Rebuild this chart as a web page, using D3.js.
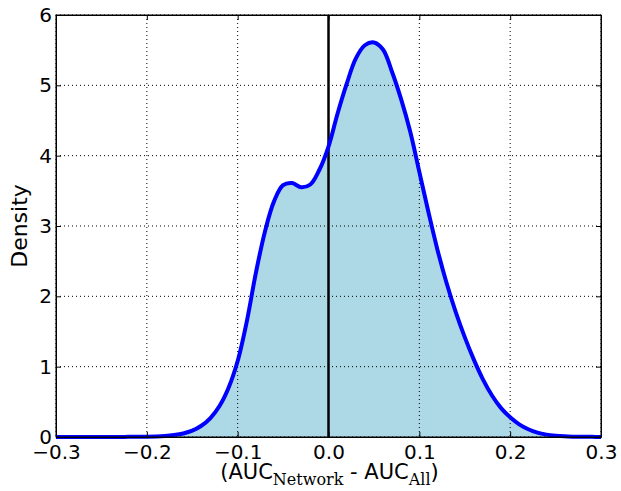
<!DOCTYPE html>
<html>
<head>
<meta charset="utf-8">
<script src="https://cdn.jsdelivr.net/npm/d3@7"></script>
<style>
  body { margin: 0; background: #fff; }
  text { font-family: "DejaVu Sans", sans-serif; }
</style>
</head>
<body>
<div id="chart"></div>
<script>
// density estimate, step 0.01
let xs = d3.range(-30, 31).map(d => d / 100);
let density = [
    0, 0, 0, 0, 0, 0, 0.001, 0.001, 0.002, 0.002, 0.003,        // -0.30 .. -0.20
    0.006, 0.013, 0.027, 0.05, 0.09, 0.16, 0.27, 0.44, 0.7, 1.08, // -0.19 .. -0.10
    1.64, 2.33, 2.92, 3.35, 3.58, 3.61, 3.55, 3.59, 3.8,        // -0.09 .. -0.01
    4.13,                                                       // 0.00
    4.6, 5.02, 5.38, 5.57, 5.61, 5.51, 5.19, 4.8, 4.34, 3.77,   // 0.01 .. 0.10
    3.2, 2.66, 2.19, 1.78, 1.42, 1.1, 0.82, 0.59, 0.41, 0.28,   // 0.11 .. 0.20
    0.18, 0.11, 0.062, 0.034, 0.018, 0.009, 0.005, 0.003, 0.002, 0.001 // 0.21 .. 0.30
];
let xTicks = [-0.3, -0.2, -0.1, 0.0, 0.1, 0.2, 0.3];
let yTicks = [0, 1, 2, 3, 4, 5, 6];

let pts = xs.map((x, i) => ({ x: x, y: density[i] }));

let margin = { top: 15, right: 20, bottom: 54, left: 56 },
    width = 621 - margin.left - margin.right,
    height = 491 - margin.top - margin.bottom;

let svg = d3.select("#chart")
    .append("svg")
    .attr("width", 621)
    .attr("height", 491)
    .append("g")
    .attr("transform", "translate(" + margin.left + "," + margin.top + ")");

let x = d3.scaleLinear().domain([-0.3, 0.3]).range([0, width]);
let y = d3.scaleLinear().domain([0, 6]).range([height, 0]);

// fill under the curve
let area = d3.area()
    .x(d => x(d.x))
    .y0(y(0))
    .y1(d => y(d.y))
    .curve(d3.curveCatmullRom);
svg.append("path")
    .datum(pts)
    .attr("d", area)
    .attr("fill", "#add8e6");

// grid
svg.selectAll(".gx")
    .data(xTicks)
    .enter()
    .append("line")
    .attr("x1", d => x(d)).attr("x2", d => x(d))
    .attr("y1", 0).attr("y2", height)
    .attr("stroke", "#000")
    .attr("stroke-width", 1)
    .attr("stroke-dasharray", "1,3");
svg.selectAll(".gy")
    .data(yTicks)
    .enter()
    .append("line")
    .attr("x1", 0).attr("x2", width)
    .attr("y1", d => y(d)).attr("y2", d => y(d))
    .attr("stroke", "#000")
    .attr("stroke-width", 1)
    .attr("stroke-dasharray", "1,3");

// zero line
svg.append("line")
    .attr("x1", x(0)).attr("x2", x(0))
    .attr("y1", 0).attr("y2", height)
    .attr("stroke", "#000")
    .attr("stroke-width", 2.5);

// the density curve
let line = d3.line()
    .x(d => x(d.x))
    .y(d => y(d.y))
    .curve(d3.curveCatmullRom);
svg.append("path")
    .datum(pts)
    .attr("d", line)
    .attr("fill", "none")
    .attr("stroke", "#0000ff")
    .attr("stroke-width", 4);

// axes, ticks pointing inward like matplotlib classic
svg.append("g")
    .attr("transform", "translate(0," + height + ")")
    .call(d3.axisBottom(x).tickValues(xTicks).tickSizeInner(-5).tickSizeOuter(0)
        .tickPadding(8).tickFormat(d => d3.format(".1f")(d).replace("-", "\u2212")));
svg.append("g")
    .call(d3.axisLeft(y).tickValues(yTicks).tickSizeInner(-5).tickSizeOuter(0)
        .tickPadding(4).tickFormat(d3.format("d")));
svg.append("g")
    .call(d3.axisTop(x).tickValues(xTicks).tickSizeInner(-5).tickSizeOuter(0).tickFormat(""));
svg.append("g")
    .attr("transform", "translate(" + width + ",0)")
    .call(d3.axisRight(y).tickValues(yTicks).tickSizeInner(-5).tickSizeOuter(0).tickFormat(""));

svg.selectAll(".tick text")
    .style("font-family", "'DejaVu Sans', sans-serif")
    .style("font-size", "20px")
    .attr("fill", "#000");
svg.selectAll(".tick line").attr("stroke", "#000");

// frame
svg.append("rect")
    .attr("width", width)
    .attr("height", height)
    .attr("fill", "none")
    .attr("stroke", "#000")
    .attr("stroke-width", 1);

// labels
svg.append("text")
    .attr("transform", "rotate(-90)")
    .attr("x", 0 - height / 2)
    .attr("y", -29)
    .style("text-anchor", "middle")
    .style("font-size", "22px")
    .text("Density");

let xl = svg.append("text")
    .attr("x", width / 2 + 1)
    .attr("y", height + 42)
    .style("text-anchor", "middle")
    .style("font-size", "21px");
xl.append("tspan").text("(AUC");
xl.append("tspan")
    .attr("dy", 6)
    .style("font-family", "'DejaVu Serif', serif")
    .style("font-size", "16px")
    .text("Network");
xl.append("tspan").attr("dy", -6).text(" - AUC");
xl.append("tspan")
    .attr("dy", 6)
    .style("font-family", "'DejaVu Serif', serif")
    .style("font-size", "16px")
    .text("All");
xl.append("tspan").attr("dy", -6).text(")");
</script>
</body>
</html>
